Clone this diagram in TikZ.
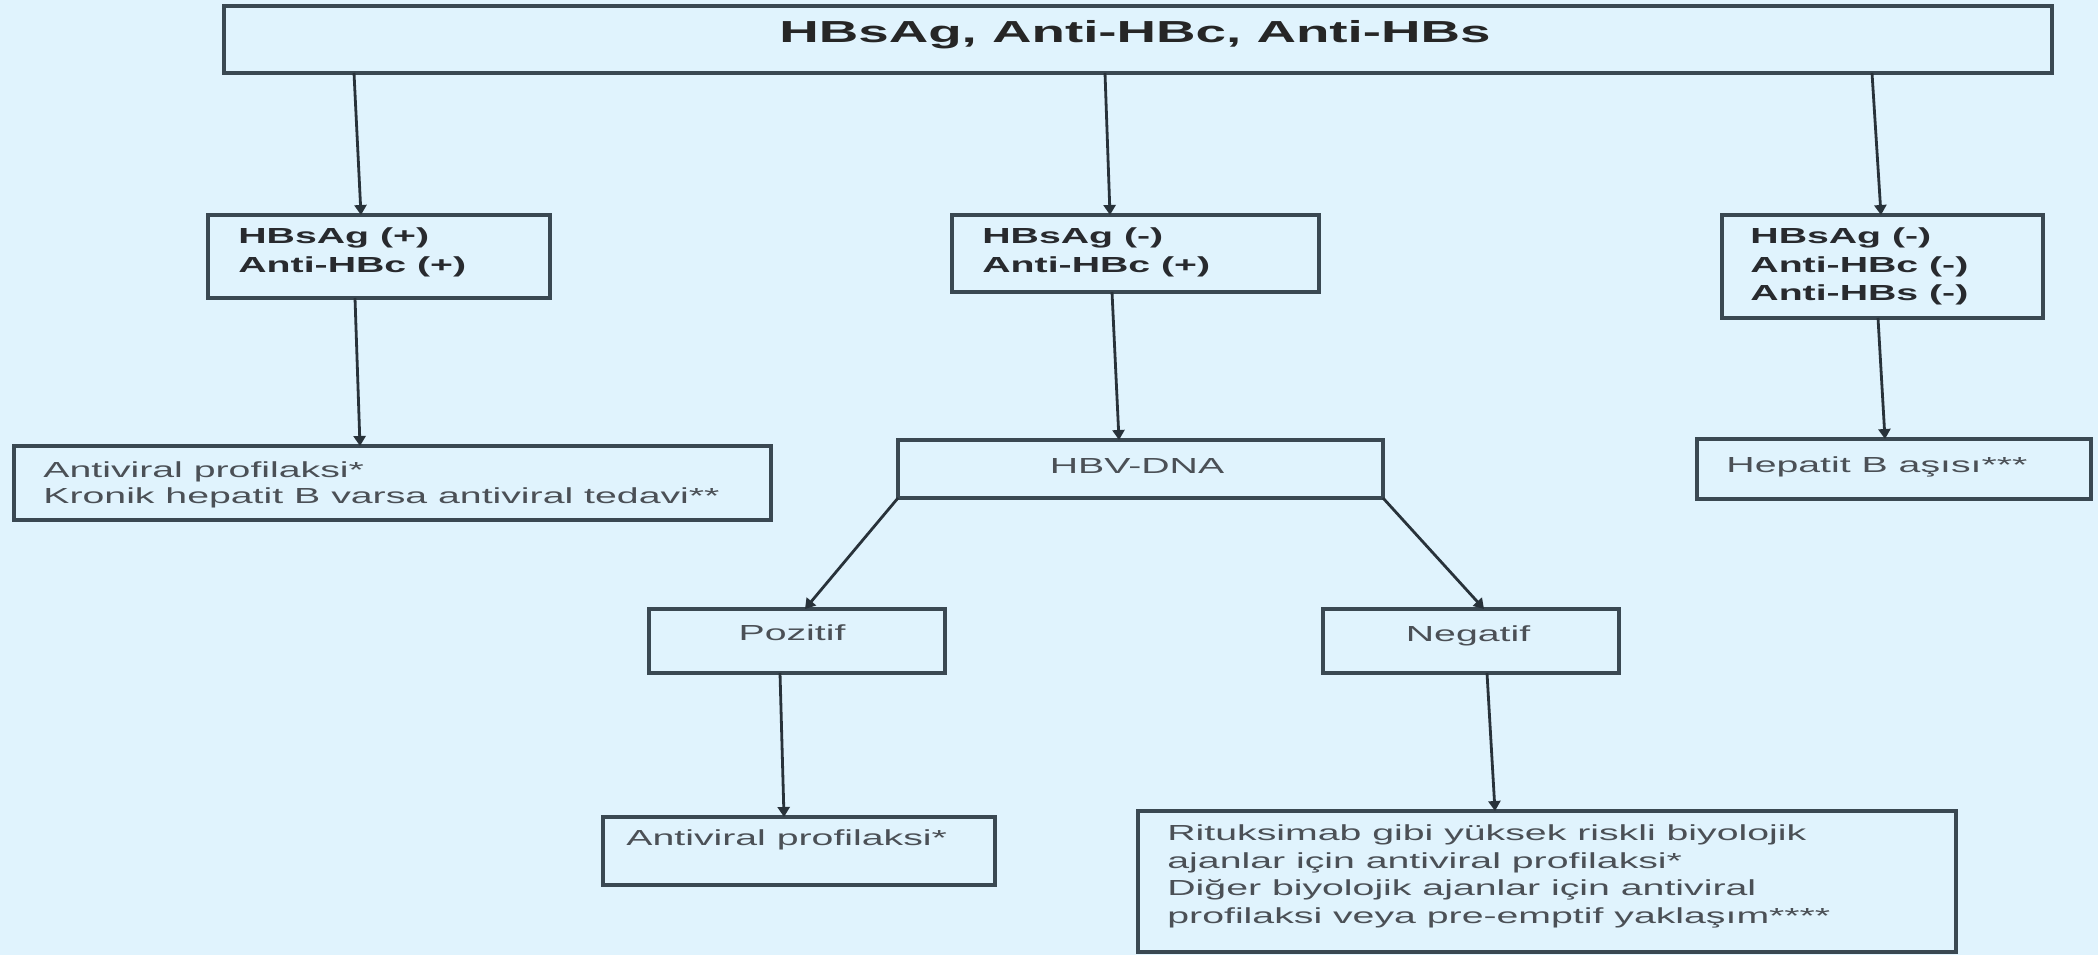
\documentclass[tikz,border=0pt]{standalone}
\usepackage{fontspec}
\newfontfamily\rf[FakeStretch=1.8]{Liberation Sans}
\usetikzlibrary{arrows.meta,calc}
\definecolor{bg}{RGB}{224,243,253}
\definecolor{boxc}{RGB}{58,72,82}
\definecolor{linec}{RGB}{40,50,58}
\definecolor{dtext}{RGB}{40,42,46}
\definecolor{gtext}{RGB}{75,80,86}
\tikzset{
 box/.style={draw=boxc, line width=2pt, fill=bg, inner sep=0pt, outer sep=0pt, rectangle},
 arr/.style={draw=linec, line width=1.4pt, -{Triangle[length=5pt,width=6pt]}},
 ttl/.style={font=\rf\bfseries\fontsize{15.2}{18}\selectfont, text=black!85, inner sep=0pt, anchor=base},
 bt/.style={font=\rf\bfseries\fontsize{10.9}{14}\selectfont, text=dtext, inner sep=0pt, anchor=base west},
 rt/.style={font=\rf\fontsize{10.9}{14}\selectfont, text=gtext, inner sep=0pt, anchor=base west},
 rc/.style={rt, anchor=base},
}
\begin{document}
\begin{tikzpicture}[x=0.5pt,y=-0.5pt]
\useasboundingbox (0,0) rectangle (2098,955);
\fill[bg] (0,0) rectangle (2098,955);
% boxes
\node[box, minimum width=914pt, minimum height=33.5pt] (top) at (1138,39.5) {};
\node[box, minimum width=171pt, minimum height=41.5pt] (A) at (379,256.5) {};
\node[box, minimum width=183.5pt, minimum height=38.5pt] (B) at (1135.5,253.5) {};
\node[box, minimum width=160.5pt, minimum height=51.5pt] (C) at (1882.5,266.5) {};
\node[box, minimum width=378.5pt, minimum height=37pt] (D) at (392.5,483) {};
\node[box, minimum width=242.5pt, minimum height=29pt] (H) at (1140.5,469) {};
\node[box, minimum width=197pt, minimum height=30pt] (E) at (1894,469) {};
\node[box, minimum width=148pt, minimum height=32pt] (P) at (797,641) {};
\node[box, minimum width=148pt, minimum height=32pt] (N) at (1471,641) {};
\node[box, minimum width=196pt, minimum height=34pt] (F) at (799,851) {};
\node[box, minimum width=409pt, minimum height=70.5pt] (G) at (1547,881.5) {};
% texts
\node[ttl] (ttop) at (1135,42) {HBsAg, Anti-HBc, Anti-HBs};
\node[bt] (ta1) at (238,243) {HBsAg (+)};
\node[bt] (ta2) at (238,272) {Anti-HBc (+)};
\node[bt] (tb1) at (982,243) {HBsAg (-)};
\node[bt] (tb2) at (982,272) {Anti-HBc (+)};
\node[bt] (tc1) at (1750,243) {HBsAg (-)};
\node[bt] (tc2) at (1750,272) {Anti-HBc (-)};
\node[bt] (tc3) at (1750,300) {Anti-HBs (-)};
\node[rt] (td1) at (43,477) {Antiviral profilaksi*};
\node[rt] (td2) at (43,503) {Kronik hepatit B varsa antiviral tedavi**};
\node[rc] (th) at (1137,473) {HBV-DNA};
\node[rt] (te) at (1726,472) {Hepatit B aşısı***};
\node[rc] (tp) at (792,640) {Pozitif};
\node[rc] (tn) at (1468,641) {Negatif};
\node[rt] (tf) at (626,845) {Antiviral profilaksi*};
\node[rt] (tg1) at (1167,840) {Rituksimab gibi yüksek riskli biyolojik};
\node[rt] (tg2) at (1167,868) {ajanlar için antiviral profilaksi*};
\node[rt] (tg3) at (1167,895) {Diğer biyolojik ajanlar için antiviral};
\node[rt] (tg4) at (1167,923) {profilaksi veya pre-emptif yaklaşım****};
% connectors
\draw[arr] ($(top.south)+(-784,0)$) -- ($(A.north)+(-18,0)$);
\draw[arr] ($(top.south)+(-33,0)$) -- ($(B.north)+(-25.5,0)$);
\draw[arr] ($(top.south)+(734,0)$) -- ($(C.north)+(-1.5,0)$);
\draw[arr] ($(A.south)+(-24,0)$) -- ($(D.north)+(-32.5,0)$);
\draw[arr] ($(B.south)+(-23.5,0)$) -- ($(H.north)+(-21.5,0)$);
\draw[arr] ($(C.south)+(-4.5,0)$) -- ($(E.north)+(-9,0)$);
\draw[arr] (H.south west) -- ($(P.north)+(8,0)$);
\draw[arr] (H.south east) -- ($(N.north)+(13,0)$);
\draw[arr] ($(P.south)+(-17,0)$) -- ($(F.north)+(-15,0)$);
\draw[arr] ($(N.south)+(16,0)$) -- ($(G.north)+(-52,0)$);
\end{tikzpicture}
\end{document}
